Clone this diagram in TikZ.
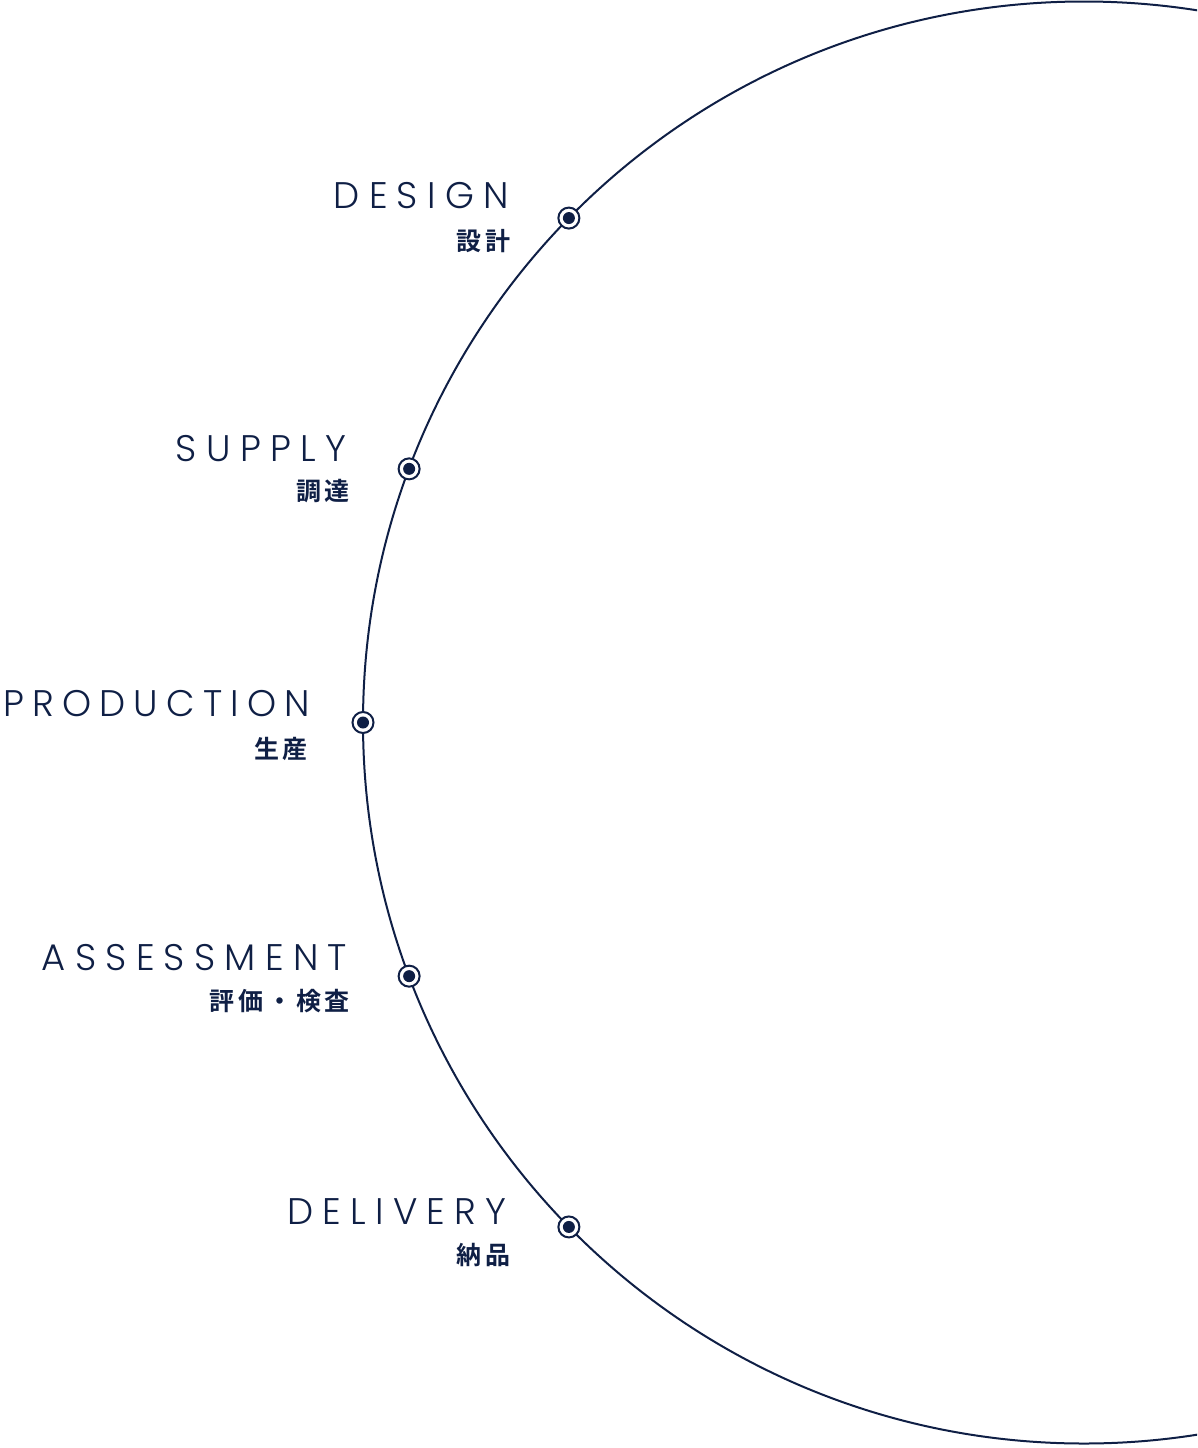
\documentclass[tikz,border=0pt]{standalone}
\usepackage{fontspec}
\newfontfamily\enfont{Poppins}[UprightFont=* Light, LetterSpace=25]
\newfontfamily\jpfont{Noto Sans CJK JP}[UprightFont=* Bold, LetterSpace=15]
\definecolor{navy}{HTML}{0F1F45}

\begin{document}
\begin{tikzpicture}[x=1pt, y=-1pt,
    stage dot/.style={circle, draw=navy, line width=2pt, fill=white, minimum size=21pt, inner sep=0pt,
        path picture={\fill[navy] (path picture bounding box.center) circle (6pt);}},
    en label/.style={text=navy, font=\enfont\fontsize{37}{37}\selectfont, anchor=base east, inner sep=0pt},
    jp label/.style={text=navy, font=\jpfont\fontsize{25}{25}\selectfont, anchor=base east, inner sep=0pt}]

    % --- Frame ---
    \useasboundingbox (0,0) rectangle (1197,1448);
    \clip (0,0) rectangle (1197,1448);

    % --- Big circle ---
    \coordinate (ctr) at (1084, 722.5);
    \draw[navy, line width=2pt] (ctr) circle (721pt);

    % --- Stage dots on the circle ---
    \node[stage dot] (design dot)     at ([shift={(224.4:721)}]ctr) {};
    \node[stage dot] (supply dot)     at ([shift={(200.6:721)}]ctr) {};
    \node[stage dot] (production dot) at ([shift={(180:721)}]ctr) {};
    \node[stage dot] (assessment dot) at ([shift={(159.4:721)}]ctr) {};
    \node[stage dot] (delivery dot)   at ([shift={(135.6:721)}]ctr) {};

    % --- Labels ---
    \node[en label] (design)     at ([shift={(-60,-10)}]design dot.center) {DESIGN};
    \node[jp label] (design jp)  at ([shift={(-58,32)}]design dot.center) {設計};

    \node[en label] (supply)     at ([shift={(-63,-7)}]supply dot.center) {SUPPLY};
    \node[jp label] (supply jp)  at ([shift={(-59,32)}]supply dot.center) {調達};

    % slightly tighter so that it fits the left edge
    \node[en label] (production)    at ([shift={(-53,-6)}]production dot.center) {\addfontfeatures{LetterSpace=22}PRODUCTION};
    \node[jp label] (production jp) at ([shift={(-55,36)}]production dot.center) {生産};

    \node[en label] (assessment)    at ([shift={(-62,-6)}]assessment dot.center) {ASSESSMENT};
    \node[jp label] (assessment jp) at ([shift={(-59,34)}]assessment dot.center) {評価・検査};

    \node[en label] (delivery)    at ([shift={(-62,-2)}]delivery dot.center) {DELIVERY};
    \node[jp label] (delivery jp) at ([shift={(-58,38)}]delivery dot.center) {納品};

\end{tikzpicture}
\end{document}
